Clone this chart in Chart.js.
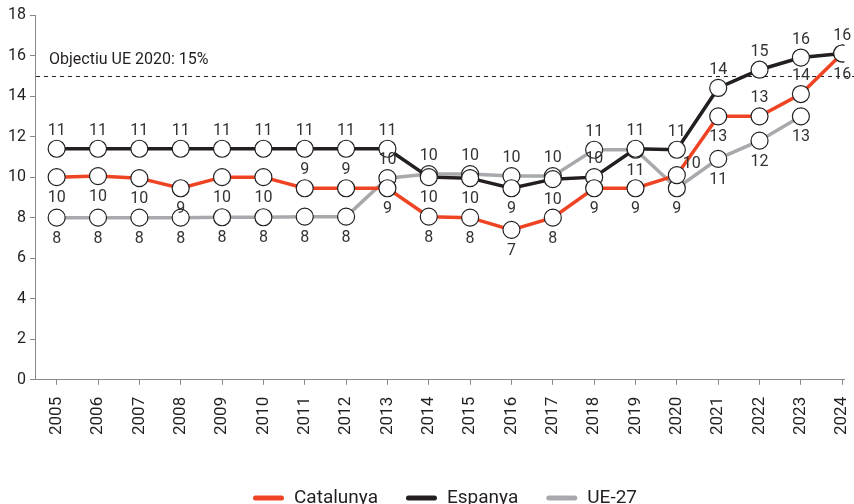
<!DOCTYPE html>
<html>
<head>
<meta charset="utf-8">
<script src="https://cdn.jsdelivr.net/npm/chart.js@4.4.1/dist/chart.umd.min.js"></script>
<style>
  html, body { margin: 0; padding: 0; background: #fff; }
  #wrap { width: 854px; height: 504px; }
</style>
</head>
<body>
<div id="wrap"><canvas id="chart" width="854" height="504"></canvas></div>
<script>
const years = [2005, 2006, 2007, 2008, 2009, 2010, 2011, 2012, 2013, 2014,
  2015, 2016, 2017, 2018, 2019, 2020, 2021, 2022, 2023, 2024];
const catalunya = [10.0, 10.05, 9.95, 9.45, 10.0, 10.0, 9.45, 9.45, 9.45, 8.05,
  8.0, 7.4, 8.0, 9.45, 9.45, 10.1, 13.0, 13.0, 14.1, 16.1];
const espanya = [11.4, 11.4, 11.4, 11.4, 11.4, 11.4, 11.4, 11.4, 11.4, 10.0,
  9.95, 9.45, 9.9, 10.0, 11.4, 11.35, 14.4, 15.3, 15.9, 16.1];
const ue27 = [8.0, 8.0, 8.0, 8.0, 8.02, 8.02, 8.05, 8.05, 9.95, 10.15,
  10.15, 10.05, 10.05, 11.35, 11.35, 9.45, 10.9, 11.8, 13.0, null];
const seriesNames = ["Catalunya", "Espanya", "UE-27"];
const targetValue = 15;
const targetText = "Objectiu UE 2020: 15%";

// where each value label sits: a = above, b = below, r = right
const labelPlace = [
  "bbbbbbaabbbbbbbrbaab",
  "aaaaaaaaabbbbaaaaaaa",
  "bbbbbbbbaaaaaabbbbbb"
];

const FONT = "Roboto, 'DejaVu Sans', sans-serif";
const colors = ["#ee4423", "#231f20", "#a7a9ac"];

function toPoints(values) {
  return years.map((y, i) => ({ x: y, y: values[i] }));
}

function dataset(label, values, color) {
  return {
    label,
    data: toPoints(values),
    borderColor: color,
    backgroundColor: color,
    borderWidth: 3.5,
    pointRadius: 8.5,
    pointHoverRadius: 8.5,
    pointBackgroundColor: "#fff",
    pointBorderColor: "#231f20",
    pointBorderWidth: 1.2,
    tension: 0,
    spanGaps: false
  };
}

const extras = {
  id: "extras",
  beforeDatasetsDraw(chart) {
    const { ctx, chartArea, scales } = chart;
    const yPix = scales.y.getPixelForValue(targetValue);
    ctx.save();
    ctx.strokeStyle = "#231f20";
    ctx.lineWidth = 1;
    ctx.setLineDash([4, 4]);
    ctx.beginPath();
    ctx.moveTo(chartArea.left, Math.round(yPix) + 0.5);
    ctx.lineTo(chart.width, Math.round(yPix) + 0.5);
    ctx.stroke();
    ctx.setLineDash([]);
    ctx.fillStyle = "#231f20";
    ctx.font = "16px " + FONT;
    ctx.textBaseline = "middle";
    ctx.textAlign = "left";
    ctx.fillText(targetText, chartArea.left + 13, yPix - 16);
    ctx.restore();
  },
  afterDatasetsDraw(chart) {
    const { ctx } = chart;
    ctx.save();
    ctx.fillStyle = "#333";
    ctx.font = "16px " + FONT;
    ctx.textAlign = "center";
    ctx.textBaseline = "middle";
    chart.data.datasets.forEach((ds, di) => {
      const meta = chart.getDatasetMeta(di);
      meta.data.forEach((pt, i) => {
        const v = ds.data[i].y;
        if (v === null || v === undefined) return;
        const place = labelPlace[di][i];
        let x = pt.x, y = pt.y;
        if (place === "a") y -= 18;
        else if (place === "b") y += 21;
        else if (place === "r") { x += 15; y -= 11; }
        ctx.fillText(String(Math.round(v)), x, y);
      });
    });
    ctx.restore();
  },
  afterDraw(chart) {
    // legend at the bottom, line swatches
    const { ctx, chartArea } = chart;
    ctx.save();
    ctx.font = "19px " + FONT;
    ctx.textBaseline = "middle";
    const sw = 26, gapText = 10, gapItem = 28;
    const widths = chart.data.datasets.map((ds) => sw + 5 + gapText + ctx.measureText(ds.label).width);
    const total = widths.reduce((a, b) => a + b, 0) + gapItem * (widths.length - 1);
    let x = (chartArea.left + chart.width) / 2 - total / 2;
    const y = chart.height - 6;
    chart.data.datasets.forEach((ds, i) => {
      ctx.strokeStyle = ds.borderColor;
      ctx.lineWidth = 5;
      ctx.lineCap = "round";
      ctx.beginPath();
      ctx.moveTo(x + 2.5, y);
      ctx.lineTo(x + 2.5 + sw, y);
      ctx.stroke();
      ctx.fillStyle = "#231f20";
      ctx.fillText(ds.label, x + sw + 5 + gapText, y);
      x += widths[i] + gapItem;
    });
    ctx.restore();
  }
};

new Chart(document.getElementById("chart"), {
  type: "line",
  data: {
    datasets: [
      dataset(seriesNames[0], catalunya, colors[0]),
      dataset(seriesNames[1], espanya, colors[1]),
      dataset(seriesNames[2], ue27, colors[2])
    ]
  },
  options: {
    responsive: false,
    animation: false,
    layout: { padding: { top: 15, right: 7, left: 4, bottom: 57 } },
    plugins: {
      tooltip: { enabled: false },
      legend: { display: false }
    },
    scales: {
      x: {
        type: "linear",
        min: 2004.5,
        max: 2024.05,
        afterBuildTicks: (scale) => { scale.ticks = years.map((v) => ({ value: v })); },
        afterFit: (scale) => { scale.paddingRight = 0; scale.paddingLeft = 0; },
        ticks: {
          color: "#231f20",
          font: { family: FONT, size: 17 },
          minRotation: 90,
          maxRotation: 90,
          padding: 12,
          callback: (v) => String(v)
        },
        grid: { drawOnChartArea: false, drawTicks: true, tickLength: 5, color: "#888" },
        border: { color: "#888", width: 1 }
      },
      y: {
        min: 0,
        max: 18,
        ticks: {
          stepSize: 2,
          color: "#231f20",
          font: { family: FONT, size: 16 },
          padding: 4
        },
        grid: { drawOnChartArea: false, drawTicks: true, tickLength: 6, color: "#888" },
        border: { color: "#888", width: 1 }
      }
    }
  },
  plugins: [extras]
});
</script>
</body>
</html>
